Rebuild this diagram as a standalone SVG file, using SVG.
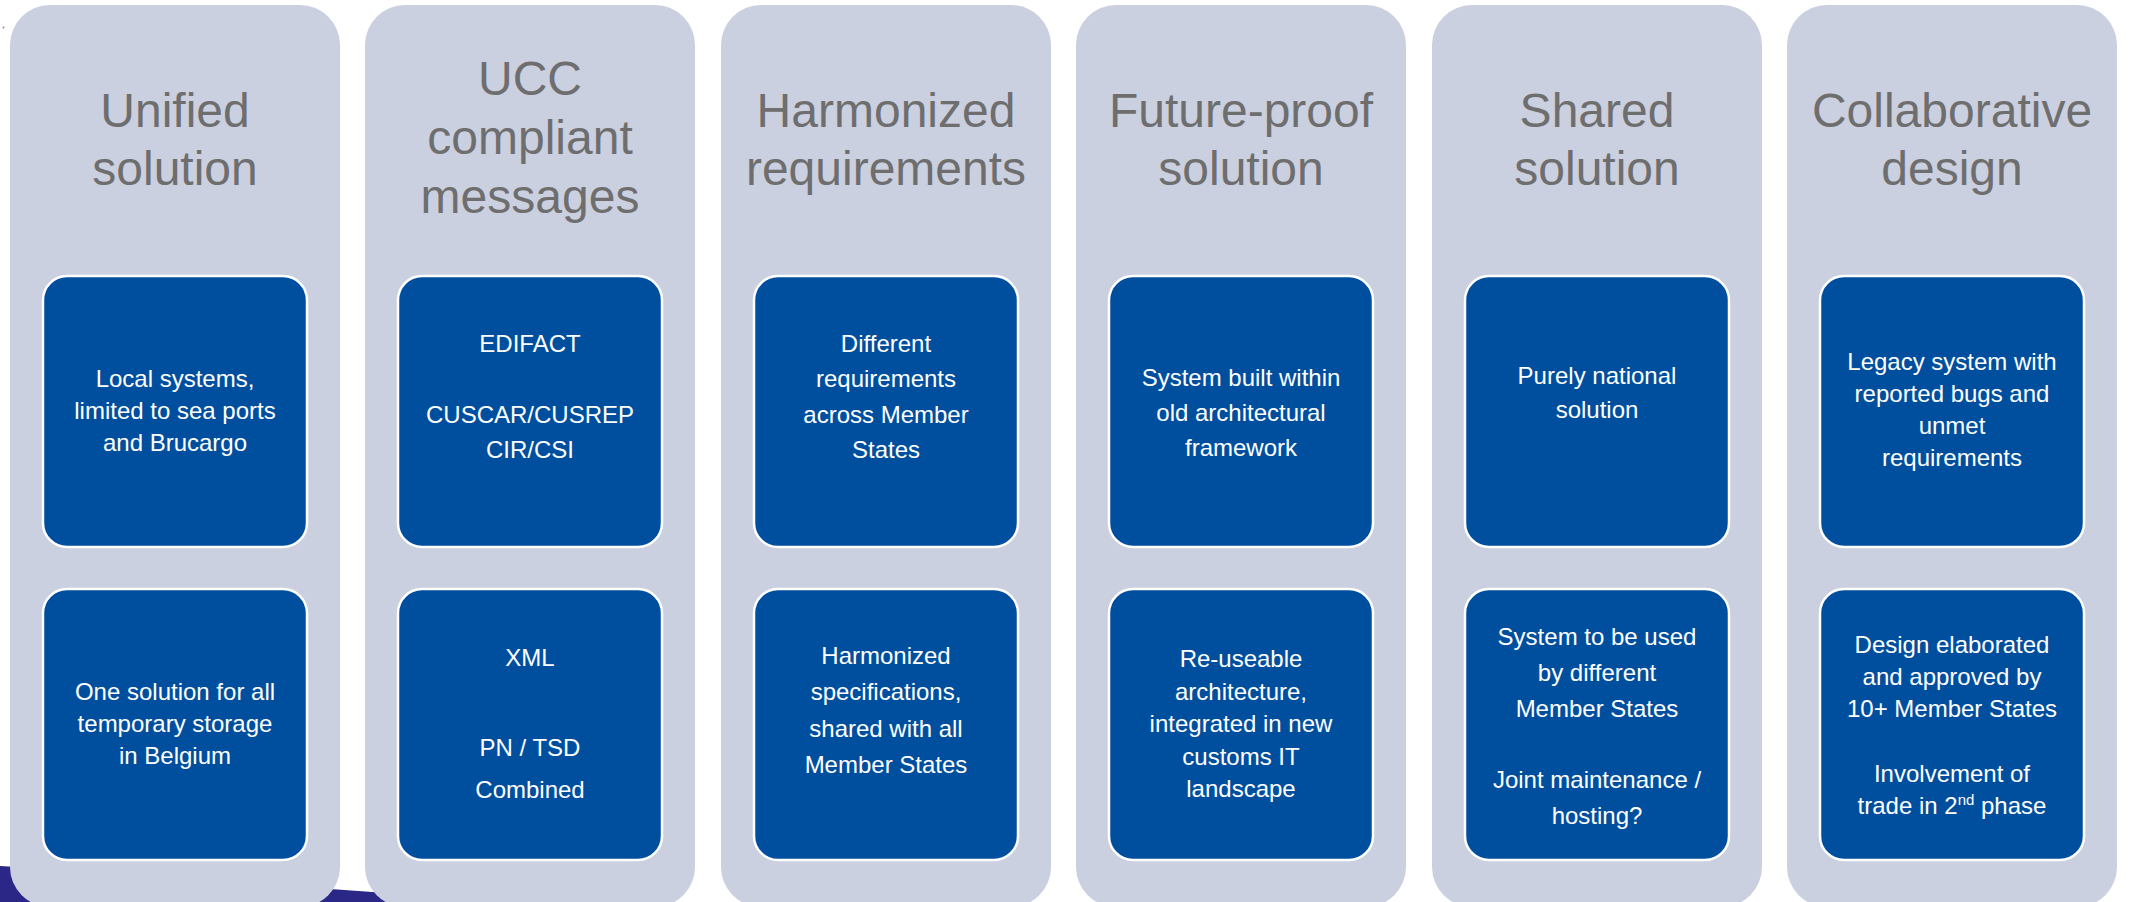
<svg xmlns="http://www.w3.org/2000/svg" width="2130" height="902" viewBox="0 0 2130 902">
<style>
.col{fill:#CBD0E0;}
.box{fill:#004F9F;stroke:#FFFFFF;stroke-width:2.5;}
.title{font-family:"Liberation Sans",Arial,sans-serif;font-size:48px;fill:#6E6E6E;text-anchor:middle;}
.txt{font-family:"Liberation Sans",Arial,sans-serif;font-size:24px;fill:#FFFFFF;text-anchor:middle;}
</style>
<rect x="0" y="0" width="2130" height="902" fill="#FFFFFF"/>
<path d="M0,866 C120,872 300,888 520,902 L0,902 Z" fill="#2B2786"/>
<circle cx="3.5" cy="27.5" r="1" fill="#8A8A8A"/>
<g id="connectors"></g>

<g id="col1" transform="translate(10,0)">
<rect class="col" x="0" y="5" width="330" height="902" rx="40"/>
<text class="title" x="165" y="127">Unified</text>
<text class="title" x="165" y="185">solution</text>
<g id="col1-top"><rect class="box" x="33" y="276" width="264" height="271" rx="24"/>
<text class="txt" x="165" y="387">Local systems,</text>
<text class="txt" x="165" y="419">limited to sea ports</text>
<text class="txt" x="165" y="451">and Brucargo</text></g>
<g id="col1-bottom"><rect class="box" x="33" y="589" width="264" height="271" rx="24"/>
<text class="txt" x="165" y="700">One solution for all</text>
<text class="txt" x="165" y="732">temporary storage</text>
<text class="txt" x="165" y="764">in Belgium</text></g>
</g>

<g id="col2" transform="translate(365,0)">
<rect class="col" x="0" y="5" width="330" height="902" rx="40"/>
<text class="title" x="165" y="95">UCC</text>
<text class="title" x="165" y="154">compliant</text>
<text class="title" x="165" y="213">messages</text>
<g id="col2-top"><rect class="box" x="33" y="276" width="264" height="271" rx="24"/>
<text class="txt" x="165" y="352">EDIFACT</text>
<text class="txt" x="165" y="423">CUSCAR/CUSREP</text>
<text class="txt" x="165" y="458">CIR/CSI</text></g>
<g id="col2-bottom"><rect class="box" x="33" y="589" width="264" height="271" rx="24"/>
<text class="txt" x="165" y="666">XML</text>
<text class="txt" x="165" y="756">PN / TSD</text>
<text class="txt" x="165" y="798">Combined</text></g>
</g>

<g id="col3" transform="translate(721,0)">
<rect class="col" x="0" y="5" width="330" height="902" rx="40"/>
<text class="title" x="165" y="127">Harmonized</text>
<text class="title" x="165" y="185">requirements</text>
<g id="col3-top"><rect class="box" x="33" y="276" width="264" height="271" rx="24"/>
<text class="txt" x="165" y="352">Different</text>
<text class="txt" x="165" y="387">requirements</text>
<text class="txt" x="165" y="423">across Member</text>
<text class="txt" x="165" y="458">States</text></g>
<g id="col3-bottom"><rect class="box" x="33" y="589" width="264" height="271" rx="24"/>
<text class="txt" x="165" y="664">Harmonized</text>
<text class="txt" x="165" y="700">specifications,</text>
<text class="txt" x="165" y="737">shared with all</text>
<text class="txt" x="165" y="773">Member States</text></g>
</g>

<g id="col4" transform="translate(1076,0)">
<rect class="col" x="0" y="5" width="330" height="902" rx="40"/>
<text class="title" x="165" y="127">Future-proof</text>
<text class="title" x="165" y="185">solution</text>
<g id="col4-top"><rect class="box" x="33" y="276" width="264" height="271" rx="24"/>
<text class="txt" x="165" y="386">System built within</text>
<text class="txt" x="165" y="421">old architectural</text>
<text class="txt" x="165" y="456">framework</text></g>
<g id="col4-bottom"><rect class="box" x="33" y="589" width="264" height="271" rx="24"/>
<text class="txt" x="165" y="667">Re-useable</text>
<text class="txt" x="165" y="700">architecture,</text>
<text class="txt" x="165" y="732">integrated in new</text>
<text class="txt" x="165" y="765">customs IT</text>
<text class="txt" x="165" y="797">landscape</text></g>
</g>

<g id="col5" transform="translate(1432,0)">
<rect class="col" x="0" y="5" width="330" height="902" rx="40"/>
<text class="title" x="165" y="127">Shared</text>
<text class="title" x="165" y="185">solution</text>
<g id="col5-top"><rect class="box" x="33" y="276" width="264" height="271" rx="24"/>
<text class="txt" x="165" y="384">Purely national</text>
<text class="txt" x="165" y="418">solution</text></g>
<g id="col5-bottom"><rect class="box" x="33" y="589" width="264" height="271" rx="24"/>
<text class="txt" x="165" y="645">System to be used</text>
<text class="txt" x="165" y="681">by different</text>
<text class="txt" x="165" y="717">Member States</text>
<text class="txt" x="165" y="788">Joint maintenance /</text>
<text class="txt" x="165" y="824">hosting?</text></g>
</g>

<g id="col6" transform="translate(1787,0)">
<rect class="col" x="0" y="5" width="330" height="902" rx="40"/>
<text class="title" x="165" y="127">Collaborative</text>
<text class="title" x="165" y="185">design</text>
<g id="col6-top"><rect class="box" x="33" y="276" width="264" height="271" rx="24"/>
<text class="txt" x="165" y="370">Legacy system with</text>
<text class="txt" x="165" y="402">reported bugs and</text>
<text class="txt" x="165" y="434">unmet</text>
<text class="txt" x="165" y="466">requirements</text></g>
<g id="col6-bottom"><rect class="box" x="33" y="589" width="264" height="271" rx="24"/>
<text class="txt" x="165" y="653">Design elaborated</text>
<text class="txt" x="165" y="685">and approved by</text>
<text class="txt" x="165" y="717">10+ Member States</text>
<text class="txt" x="165" y="782">Involvement of</text>
<text class="txt" x="165" y="814">trade in 2<tspan font-size="15" dy="-9">nd</tspan><tspan dy="9"> phase</tspan></text></g>
</g>
</svg>
